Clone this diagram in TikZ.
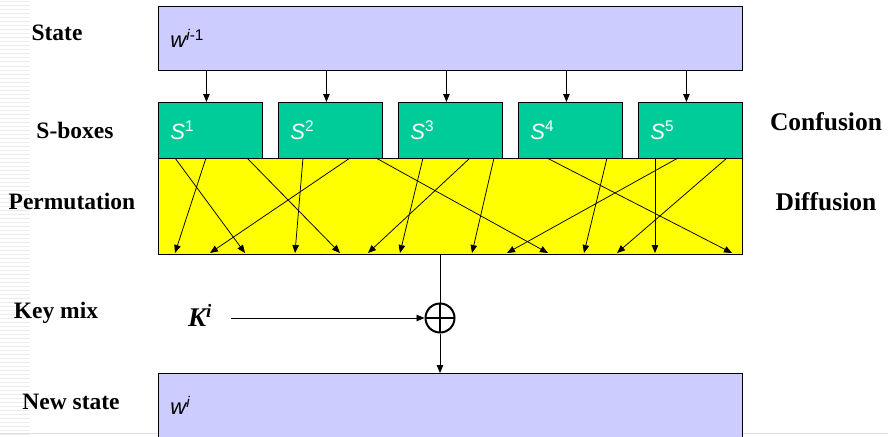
\documentclass[tikz,border=0pt]{standalone}
\usepackage{fontspec}
\setmainfont{Liberation Serif}
\setsansfont{Liberation Sans}
\usetikzlibrary{arrows.meta}

\definecolor{statecol}{HTML}{CCCCFF}
\definecolor{sboxcol}{HTML}{00CC99}
\definecolor{permcol}{HTML}{FFFF00}

\begin{document}
\begin{tikzpicture}[>={Triangle[length=8pt, width=6.5pt]}, x=1pt, y=-1pt,
    line width=0.9pt,
    statebox/.style={draw, fill=statecol, anchor=north west, minimum height=64pt,
      text width=560pt, inner xsep=12pt, align=left,
      font=\sffamily\fontsize{22}{26}\selectfont},
    sbox/.style={draw, fill=sboxcol, anchor=north west, minimum height=56pt,
      text width=80pt, inner xsep=12pt, align=left, text=white,
      font=\sffamily\fontsize{22}{26}\selectfont},
    rowlabel/.style={font=\bfseries\fontsize{23.5}{28}\selectfont},
    sidelabel/.style={font=\bfseries\fontsize{25.5}{30}\selectfont}]

    % 定义公共变量
    \def\boxleft{158}     % 方框左边界
    \def\sboxstep{120}    % S盒水平间距
    \def\permtop{158}     % 置换层上边界
    \def\permbot{253}     % 置换层下边界

    \useasboundingbox (0,0) rectangle (888,436);

    % 左侧背景条纹
    \foreach \y in {2,6,...,434} {
      \draw[gray!15, line width=1pt] (0,\y) -- (30,\y);
    }
    \draw[gray!25, line width=0.6pt] (0,433) -- (888,433);

    % 左侧与右侧文字
    \node[rowlabel] (lstate) at (57,33) {State};
    \node[rowlabel] (lsbox) at (75,130) {S-boxes};
    \node[rowlabel] (lperm) at (72,201) {Permutation};
    \node[rowlabel] (lkey) at (56,313) {Key mix};
    \node[rowlabel] (lnew) at (71,402) {New state};
    \node[sidelabel] (conf) at (826,122) {Confusion};
    \node[sidelabel] (diff) at (826,202) {Diffusion};

    % 当前状态
    \node[statebox] (state) at (\boxleft,6)
      {{\itshape w}\textsuperscript{{\itshape i}-1}};

    % 置换层
    \node[draw, fill=permcol, anchor=north west, minimum width=584pt,
      minimum height=96pt, inner sep=0pt] (perm) at (\boxleft,\permtop) {};

    % S盒:5个
    \foreach \i in {1,...,5} {
      \pgfmathsetmacro{\xpos}{\boxleft+(\i-1)*\sboxstep}
      \node[sbox] (s\i) at (\xpos,102) {{\itshape S}\textsuperscript{\i}};
      \draw[->] ([xshift=-4pt]s\i.north |- state.south) -- ([xshift=-4pt]s\i.north);
    }

    % 置换连线
    \foreach \n/\a/\b in {1/175/245, 2/206/175, 3/247/340, 4/303/295,
                          5/350/210, 6/376/548, 7/423/400, 8/470/368,
                          9/494/472, 10/547/732, 11/607/584, 12/678/507,
                          13/655/655, 14/727/617} {
      \coordinate (pin\n) at (\a,\permtop);
      \coordinate (pout\n) at (\b,\permbot);
      \draw[->, line width=0.75pt] (pin\n) -- (pout\n);
    }

    % 密钥异或
    \node[circle, draw, line width=2pt, minimum size=29pt, inner sep=0pt,
      path picture={
        \draw[line width=2pt] (path picture bounding box.north) -- (path picture bounding box.south);
        \draw[line width=2pt] (path picture bounding box.west) -- (path picture bounding box.east);
      }] (xor) at (440,318) {};
    \node[font=\bfseries\itshape\fontsize{27}{32}\selectfont] (key) at (200,315)
      {K\textsuperscript{i}};
    \coordinate (kstart) at (231,318);

    % 新状态
    \node[statebox] (new) at (\boxleft,373) {{\itshape w}\textsuperscript{\itshape i}};

    \draw (xor |- perm.south) -- (xor.north);
    \draw[->] (kstart) -- (xor.west);
    \draw[->] (xor.south) -- (xor |- new.north);

\end{tikzpicture}
\end{document}
